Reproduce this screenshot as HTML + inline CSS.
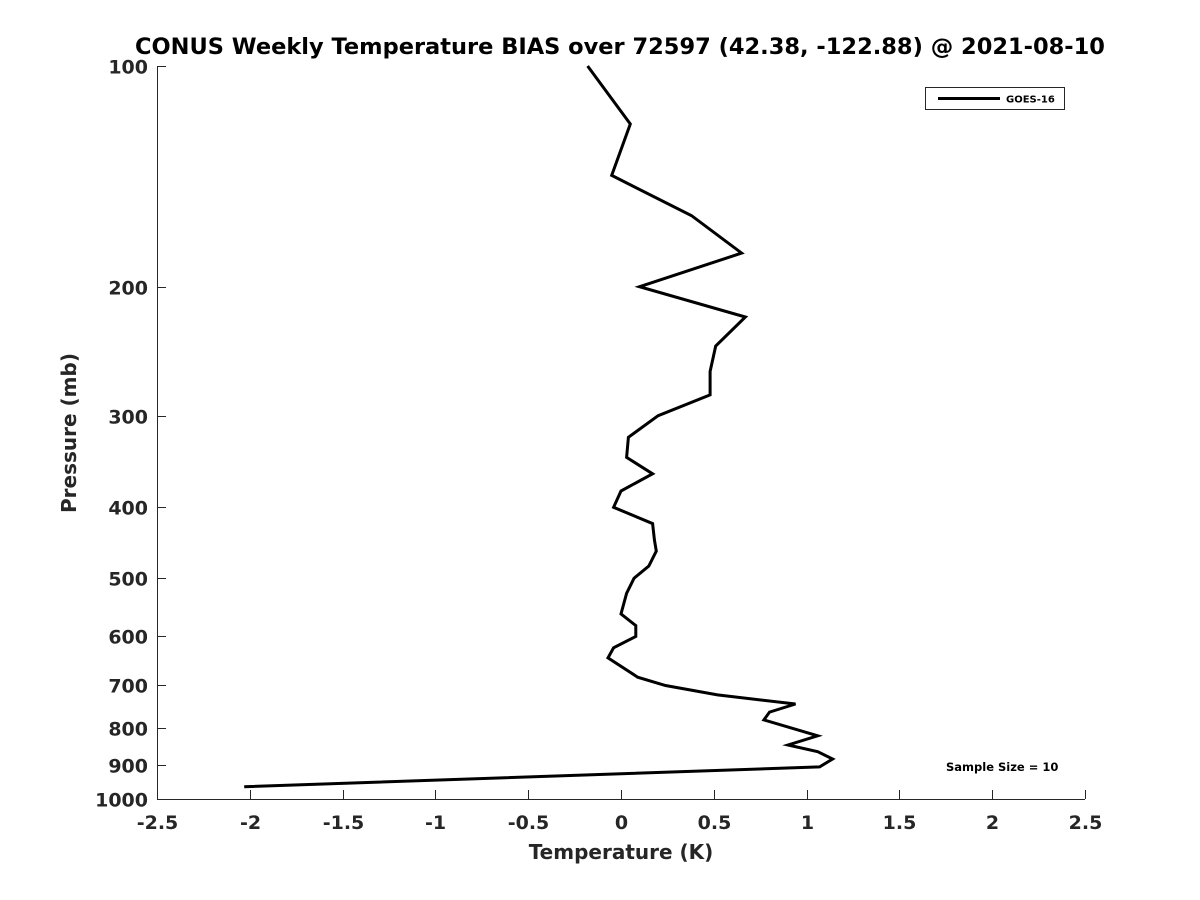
<!DOCTYPE html>
<html><head><meta charset="utf-8"><style>
html,body{margin:0;padding:0;background:#fff;}
svg{display:block;font-family:"DejaVu Sans","Liberation Sans",sans-serif;font-weight:bold;}
</style></head><body>
<svg id="chart" width="1200" height="900" viewBox="0 0 1200 900">
<rect width="1200" height="900" fill="#fff"/>
<text x="620" y="54" text-anchor="middle" font-size="22.5" fill="#000">CONUS Weekly Temperature BIAS over 72597 (42.38, -122.88) @ 2021-08-10</text>
<g id="axes"></g>
<g id="series"></g>
<text x="621" y="859" text-anchor="middle" font-size="20" fill="#262626">Temperature (K)</text>
<text transform="translate(76,433) rotate(-90)" text-anchor="middle" font-size="20" fill="#262626">Pressure (mb)</text>
<g>
<rect x="925.5" y="87.5" width="139" height="22" fill="#fff" stroke="#262626" stroke-width="1"/>
<line x1="938" y1="98.5" x2="1000" y2="98.5" stroke="#000" stroke-width="3"/>
<text x="1006" y="102.5" font-size="10" fill="#000">GOES-16</text>
</g>
<text x="946" y="771" font-size="11.5" fill="#000">Sample Size = 10</text>
</svg>
<script>
const xTicks=[-2.5,-2,-1.5,-1,-0.5,0,0.5,1,1.5,2,2.5];
const xTickLabels=["-2.5","-2","-1.5","-1","-0.5","0","0.5","1","1.5","2","2.5"];
const yTicks=[100,200,300,400,500,600,700,800,900,1000];
const pressures=[100,120,141,160,180,200,220,241,261,281,300,321,342,360,380,400,421,443,459,481,500,524,559,580,600,622,642,682,700,721,742,761,780,820,844,862,882,904,962];
const biasValues=[-0.18,0.05,-0.05,0.38,0.65,0.10,0.67,0.51,0.48,0.48,0.20,0.04,0.03,0.17,0.0,-0.04,0.17,0.18,0.19,0.15,0.07,0.03,0.0,0.08,0.08,-0.04,-0.07,0.09,0.24,0.52,0.94,0.80,0.77,1.06,0.90,1.06,1.14,1.07,-2.03];
const NS='http://www.w3.org/2000/svg';
const X0=157,X1=1085,Y0=66,Y1=799;
function xs(v){return X0+(v+2.5)/5*(X1-X0);}
function ys(p){return Y0+(Math.log10(p)-2)*(Y1-Y0);}
function mk(t,a,parent){const e=document.createElementNS(NS,t);for(const k in a)e.setAttribute(k,a[k]);parent.appendChild(e);return e;}
const ax=document.getElementById('axes');
let l=mk('line',{x1:X0,y1:Y1+0.5,x2:X1,y2:Y1+0.5,stroke:'#262626','stroke-width':1},ax);


l=mk('line',{x1:X0+0.5,y1:Y0,x2:X0+0.5,y2:Y1,stroke:'#262626','stroke-width':1},ax);


xTicks.forEach((v,i)=>{
 const x=Math.round(xs(v))+0.5;
 const t=mk('line',{x1:x,y1:Y1,x2:x,y2:Y1-9,stroke:'#262626','stroke-width':1},ax);
 
 
 const tx=mk('text',{x:x,y:829,'text-anchor':'middle','font-size':19,fill:'#262626'},ax);
 tx.textContent=xTickLabels[i];
 
 
});
yTicks.forEach(p=>{
 const y=Math.round(ys(p))+0.5;
 const t=mk('line',{x1:X0,y1:y,x2:X0+9,y2:y,stroke:'#262626','stroke-width':1},ax);
 
 
 const tx=mk('text',{x:148,y:y+7,'text-anchor':'end','font-size':19,fill:'#262626'},ax);
 tx.textContent=String(p);
 
 
});
const sg=document.getElementById('series');
const pts=pressures.map((p,i)=>xs(biasValues[i]).toFixed(1)+','+ys(p).toFixed(1)).join(' ');
const pl=mk('polyline',{points:pts,fill:'none',stroke:'#000','stroke-width':3,'stroke-linejoin':'miter'},sg);


</script>
</body></html>
